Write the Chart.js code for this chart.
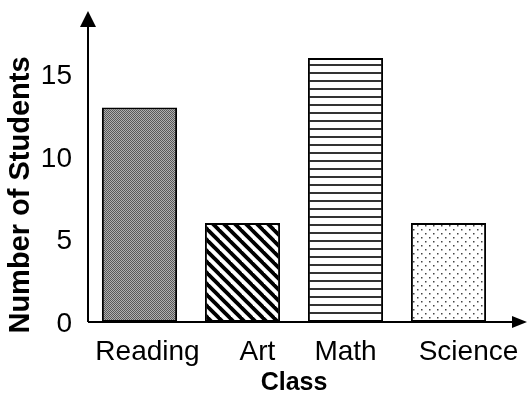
<!DOCTYPE html>
<html lang="en">
  <head>
    <meta charset="utf-8" />
    <title>Students by class</title>
    <style>
      * {
        margin: 0;
        padding: 0;
      }
      body {
        background: white;
      }
      .chartBox {
        width: 528px;
        height: 404px;
      }
    </style>
  </head>
  <body>
    <div class="chartBox">
      <canvas id="myChart"></canvas>
    </div>

    <script src="https://cdn.jsdelivr.net/npm/chart.js"></script>

    <script>
      const categories = ["Reading", "Art", "Math", "Science"];
      const students = [13, 6, 16, 6];
      const yTicks = [0, 5, 10, 15];

      const font = "'Liberation Sans', Arial, sans-serif";

      // small tiles used as bar fills
      function makePattern(w, h, paint) {
        const c = document.createElement("canvas");
        c.width = w;
        c.height = h;
        const g = c.getContext("2d");
        g.fillStyle = "#fff";
        g.fillRect(0, 0, w, h);
        paint(g);
        return g.createPattern(c, "repeat");
      }

      const checker = makePattern(2, 2, (g) => {
        g.fillStyle = "#585858";
        g.fillRect(0, 0, 1, 1);
        g.fillRect(1, 1, 1, 1);
        g.fillStyle = "#b0b0b0";
        g.fillRect(1, 0, 1, 1);
        g.fillRect(0, 1, 1, 1);
      });

      const diagonal = makePattern(11, 11, (g) => {
        g.strokeStyle = "#000";
        g.lineWidth = 3.8;
        for (let k = -1; k <= 1; k++) {
          g.beginPath();
          g.moveTo(-2 + k * 11, -2);
          g.lineTo(13 + k * 11, 13);
          g.stroke();
        }
      });

      const horizontal = makePattern(8, 8, (g) => {
        g.fillStyle = "#333";
        g.fillRect(0, 0, 8, 2);
      });

      const dots = makePattern(8, 8, (g) => {
        g.fillStyle = "#444";
        g.fillRect(1, 1, 1.5, 1.5);
        g.fillRect(5, 5, 1.5, 1.5);
      });

      // axis lines with arrow heads; the y arrow rises above the plot box
      const axisArrows = {
        id: "axisArrows",
        afterDraw(chart) {
          const {
            ctx,
            chartArea: { top, bottom, left },
          } = chart;
          const w = chart.width;
          const tip = top - 57;
          ctx.save();
          ctx.strokeStyle = "#000";
          ctx.fillStyle = "#000";
          ctx.lineWidth = 2;

          ctx.beginPath();
          ctx.moveTo(left, bottom);
          ctx.lineTo(left, tip + 10);
          ctx.moveTo(left, bottom);
          ctx.lineTo(w - 14, bottom);
          ctx.stroke();

          ctx.beginPath();
          ctx.moveTo(left, tip);
          ctx.lineTo(left - 8, tip + 16);
          ctx.lineTo(left + 8, tip + 16);
          ctx.closePath();
          ctx.fill();

          ctx.beginPath();
          ctx.moveTo(w - 1, bottom);
          ctx.lineTo(w - 16, bottom - 6);
          ctx.lineTo(w - 16, bottom + 6);
          ctx.closePath();
          ctx.fill();
          ctx.restore();
        },
      };

      // category names sit a little right of their bars in the original
      const categoryLabels = {
        id: "categoryLabels",
        afterDraw(chart) {
          const { ctx, scales: { x } } = chart;
          const shift = [8, 15, 0, 20];
          ctx.save();
          ctx.font = "28px " + font;
          ctx.fillStyle = "#000";
          ctx.textAlign = "center";
          ctx.textBaseline = "alphabetic";
          chart.data.labels.forEach((label, i) => {
            ctx.fillText(label, x.getPixelForTick(i) + shift[i], x.top + 38);
          });
          ctx.restore();
        },
      };

      const data = {
        labels: categories,
        datasets: [
          {
            data: students,
            backgroundColor: [checker, diagonal, horizontal, dots],
            borderColor: "#000",
            borderWidth: 2,
            borderSkipped: false,
            barPercentage: 0.73,
            categoryPercentage: 1,
            clip: false,
          },
        ],
      };

      const config = {
        type: "bar",
        data: data,
        options: {
          responsive: true,
          maintainAspectRatio: false,
          animation: false,
          layout: {
            padding: { top: 68, right: 28, left: 0, bottom: 0 },
          },
          plugins: {
            legend: { display: false },
            tooltip: { enabled: false },
          },
          scales: {
            x: {
              grid: { display: false },
              border: { display: false },
              ticks: { display: false },
              title: {
                display: true,
                text: "Class",
                color: "#000",
                padding: { top: 0, bottom: 6 },
                font: { family: font, size: 25, weight: "bold" },
              },
              afterFit(scale) {
                scale.height = 82;
              },
            },
            y: {
              min: 0,
              max: 15.4,
              grid: { display: false },
              border: { display: false },
              afterBuildTicks(scale) {
                scale.ticks = yTicks.map((v) => ({ value: v }));
              },
              ticks: {
                color: "#000",
                padding: 8,
                labelOffset: 2,
                font: { family: font, size: 28 },
              },
              title: {
                display: true,
                text: "Number of Students",
                color: "#000",
                padding: { top: 4, bottom: 0 },
                font: { family: font, size: 29, weight: "bold" },
              },
              afterFit(scale) {
                scale.width = 88;
                scale.paddingTop = 0;
                scale.paddingBottom = 0;
              },
            },
          },
        },
        plugins: [axisArrows, categoryLabels],
      };

      const myChart = new Chart(document.getElementById("myChart"), config);
    </script>
  </body>
</html>
